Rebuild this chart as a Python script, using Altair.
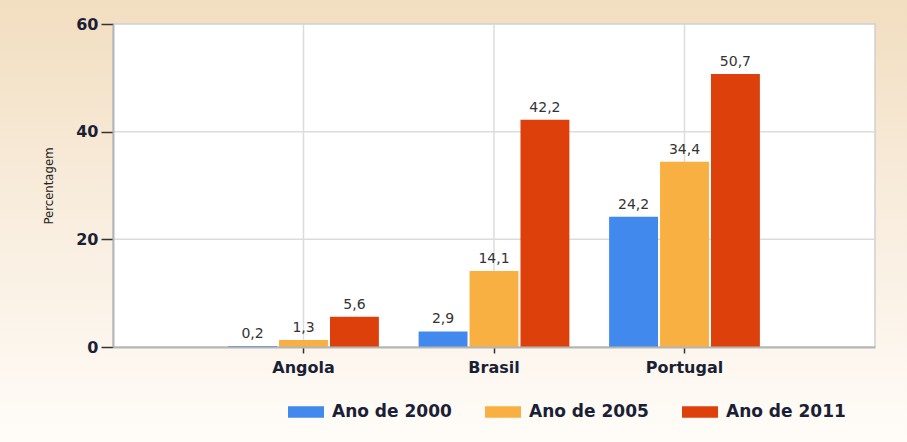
import altair as alt
import pandas as pd

countries = ["Angola", "Brasil", "Portugal"]
series = ["Ano de 2000", "Ano de 2005", "Ano de 2011"]
v2000 = [0.2, 2.9, 24.2]
v2005 = [1.3, 14.1, 34.4]
v2011 = [5.6, 42.2, 50.7]
colors = ["#4189ec", "#f9b042", "#de400c"]
y_ticks = [0, 20, 40, 60]
y_grid = [20, 40]

rows = []
for s, vals in zip(series, [v2000, v2005, v2011]):
    for c, v in zip(countries, vals):
        rows.append({"pais": c, "serie": s, "valor": v})
df = pd.DataFrame(rows)

W, H = 762, 323
PAD = {"left": 113, "top": 24, "right": 32, "bottom": 95}
NAVY = "#1b1f36"
FONT = "DejaVu Sans"

one = pd.DataFrame({"k": [0]})

bg = alt.Chart(one).mark_rect(
    color=alt.Gradient(
        gradient="linear",
        stops=[alt.GradientStop(offset=0, color="#f2dec0"),
               alt.GradientStop(offset=0.45, color="#f8ecdc"),
               alt.GradientStop(offset=1, color="#fffcf8")],
        x1=0, x2=0, y1=0, y2=1),
).encode(
    x=alt.value(-PAD["left"]), x2=alt.value(W + PAD["right"]),
    y=alt.value(-PAD["top"]), y2=alt.value(H + PAD["bottom"]),
)

plot_bg = alt.Chart(one).mark_rect(
    fill="white", stroke="#cfcfcf", strokeWidth=1.5
).encode(
    x=alt.value(0), x2=alt.value(W), y=alt.value(0), y2=alt.value(H)
)

xscale = alt.Scale(domain=countries, paddingInner=0, paddingOuter=0.5)

vgrid = alt.Chart(pd.DataFrame({"pais": countries})).mark_rule(
    color="#dcdcdc", strokeWidth=1.5
).encode(x=alt.X("pais:N", scale=xscale))

hgrid = alt.Chart(pd.DataFrame({"v": y_grid})).mark_rule(
    color="#dcdcdc", strokeWidth=1.5
).encode(y=alt.Y("v:Q"))

x_enc = alt.X(
    "pais:N", scale=xscale, sort=countries,
    axis=alt.Axis(
        title=None, labelAngle=0, labelAlign="center", labelBaseline="top",
        labelFont=FONT, labelFontWeight="bold",
        labelFontSize=16, labelColor=NAVY, labelPadding=6,
        tickSize=6, tickColor="#333333", tickWidth=1.5, bandPosition=0.5,
        domainColor="#b5b5b5", domainWidth=2, grid=False, zindex=1,
    ),
)
xo_enc = alt.XOffset("serie:N", sort=series,
                     scale=alt.Scale(paddingInner=0.04, paddingOuter=0.39))
y_enc = alt.Y(
    "valor:Q", scale=alt.Scale(domain=[0, 60], nice=False),
    axis=alt.Axis(
        values=y_ticks, title="Percentagem", grid=False,
        labelFont=FONT, labelFontWeight="bold", labelFontSize=16,
        labelColor=NAVY, labelPadding=3, tickSize=12, tickColor="#333333",
        tickWidth=1.5, domainColor="#b5b5b5", domainWidth=2,
        titleFont="DejaVu Sans Condensed, Liberation Sans", titleFontSize=13,
        titleFontWeight="normal", titleColor="#222222",
        titleX=-65, titleY=H / 2, titleAngle=-90, titleAlign="center",
        titleBaseline="middle", zindex=1,
    ),
)

bars = alt.Chart(df).mark_bar().encode(
    x=x_enc, xOffset=xo_enc, y=y_enc,
    color=alt.Color(
        "serie:N", sort=series,
        scale=alt.Scale(domain=series, range=colors),
        legend=alt.Legend(
            title=None, orient="none", direction="horizontal",
            legendX=175, legendY=370,
            symbolType="M-1,-0.32L1,-0.32L1,0.32L-1,0.32Z", symbolSize=1296,
            symbolStrokeWidth=0, labelFont=FONT, labelFontWeight="bold",
            labelFontSize=17, labelColor=NAVY, labelOffset=8,
            columnPadding=33, zindex=1,
        ),
    ),
)

labels = alt.Chart(df).transform_calculate(
    label="replace(format(datum.valor, '.1f'), '.', ',')"
).mark_text(
    baseline="bottom", dy=-5, fontSize=14, font=FONT, color="#333333"
).encode(x=alt.X("pais:N", scale=xscale, sort=countries), xOffset=xo_enc,
         y=alt.Y("valor:Q"), text="label:N")

chart = alt.layer(bg, plot_bg, vgrid, hgrid, bars, labels).properties(
    width=W, height=H, autosize="none", padding=PAD, background="white"
).configure_view(stroke=None)

chart.save("out.html", embed_options={"renderer": "svg", "actions": False})
